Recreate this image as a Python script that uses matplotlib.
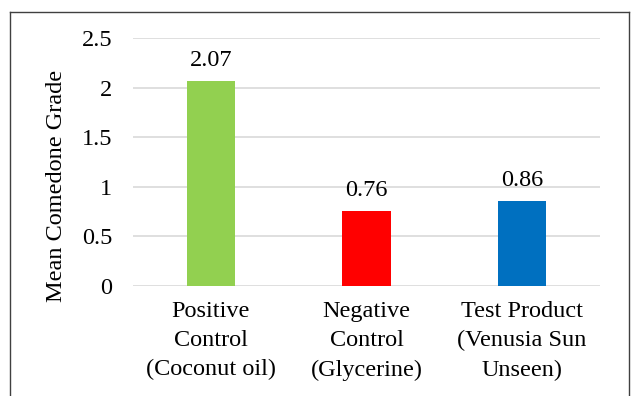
import matplotlib
matplotlib.use("Agg")
import matplotlib.pyplot as plt

categories = ["Positive\nControl\n(Coconut oil)", "Negative\nControl\n(Glycerine)", "Test Product\n(Venusia Sun\nUnseen)"]
values = [2.07, 0.76, 0.86]
value_labels = ["2.07", "0.76", "0.86"]
colors = ["#92D050", "#FF0000", "#0070C0"]
yticks = [0, 0.5, 1, 1.5, 2, 2.5]
ytick_labels = ["0", "0.5", "1", "1.5", "2", "2.5"]

plt.rcParams['font.family'] = ['Liberation Serif', 'DejaVu Serif']

W, H = 632, 396
fig = plt.figure(figsize=(W/100, H/100), dpi=100)
ax = fig.add_axes([133/W, 1 - 286/H, (600-133)/W, (286-38)/H])

x = range(len(categories))
ax.bar(x, values, width=0.31, color=colors, zorder=3)
for xi, v, lab in zip(x, values, value_labels):
    ax.text(xi, v + 0.1, lab, ha='center', va='bottom', fontsize=17.5)

ax.set_xlim(-0.5, 2.5)
ax.set_ylim(0, 2.5)
ax.set_yticks(yticks)
ax.set_yticklabels(ytick_labels, fontsize=17.5)
ax.set_xticks(list(x))
ax.set_xticklabels(categories, fontsize=17.5, linespacing=1.5)
ax.tick_params(axis='both', length=0)
ax.tick_params(axis='y', pad=15)
ax.tick_params(axis='x', pad=11)
ax.grid(axis='y', color='#D9D9D9', linewidth=1.2, zorder=0)
for s in ax.spines.values():
    s.set_visible(False)

fig.text(57/W, 1 - 186/H, "Mean Comedone Grade", rotation=90, ha='center', va='center', fontsize=17.5)

# figure border (open at bottom)
fig.add_artist(plt.Line2D([10/W, 10/W], [0, 1 - 12/H], transform=fig.transFigure, color='#404040', lw=1))
fig.add_artist(plt.Line2D([10/W, 629/W], [1 - 12/H, 1 - 12/H], transform=fig.transFigure, color='#404040', lw=1))
fig.add_artist(plt.Line2D([629/W, 629/W], [0, 1 - 12/H], transform=fig.transFigure, color='#404040', lw=1))

fig.savefig("out.png", dpi=100)
